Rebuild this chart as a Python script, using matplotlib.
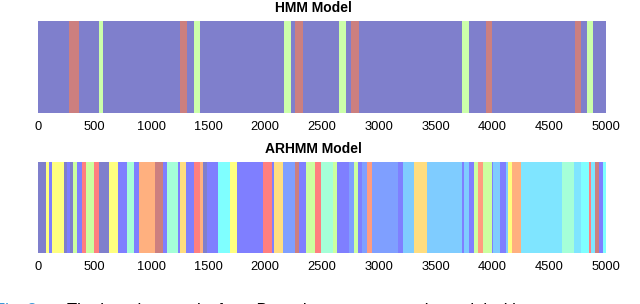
import numpy as np
import matplotlib
matplotlib.use("Agg")
import matplotlib.pyplot as plt

# state sequences as run starts + state id (sequence length 5000)
seq_len = 5000

hmm_starts = [0, 279, 361, 540, 575, 1252, 1317, 1376, 1428, 2167, 2229, 2264,
              2332, 2651, 2713, 2758, 2827, 3731, 3798, 3941, 3994, 4728,
              4781, 4831, 4884]
hmm_states = [0, 2, 0, 1, 0, 2, 0, 1, 0, 1, 0, 2,
              0, 1, 0, 2, 0, 1, 0, 2, 0, 2,
              0, 1, 0]

arhmm_starts = [0, 73, 103, 123, 232, 255, 284, 314, 349, 387, 425, 496, 540,
                630, 710, 783, 848, 895, 1032, 1106, 1135, 1238, 1252, 1305,
                1376, 1428, 1458, 1487, 1584, 1692, 1751, 1986, 2059, 2082,
                2162, 2264, 2302, 2361, 2440, 2493, 2596, 2637, 2743, 2784,
                2822, 2851, 2895, 2945, 3174, 3212, 3314, 3423, 3731, 3751,
                3798, 3839, 3877, 3921, 3994, 4009, 4068, 4120, 4140, 4170,
                4250, 4611, 4714, 4781, 4854, 4866, 4904, 4942, 4977]
arhmm_states = [0, 8, 1, 8, 0, 1, 0, 7, 1, 12, 7, 12, 0,
                8, 1, 6, 1, 10, 13, 1, 6, 1, 9, 1,
                12, 10, 0, 1, 5, 8, 1, 12, 1, 9,
                2, 13, 1, 7, 12, 6, 7, 1, 2, 7,
                1, 2, 11, 2, 1, 3, 9, 3, 1, 3,
                1, 7, 11, 7, 1, 3, 1, 3, 8, 10,
                4, 6, 4, 5, 12, 4, 13, 1, 5]

xticks = list(range(0, 5001, 500))

caption_label = "Fig. 3"
caption_text = "The learning results for a Bayesian nonparametric model with"

# colours (jet at half alpha on white)
hmm_colors = ["#7f7fcc", "#ccffaa", "#cc7f7f"]
arhmm_colors = ["#7f7fcc", "#7f7fff", "#7f9fff", "#7fccff", "#7fe5ff",
                "#7fffff", "#a5ffd8", "#ccff9f", "#ffff7f", "#ffdd7f",
                "#ffb07f", "#ff9c7f", "#ff7f7f", "#cc7f7f"]

plt.rcParams['font.family'] = ['Liberation Sans', 'DejaVu Sans']

fig = plt.figure(figsize=(6.4, 3.04), dpi=100)
ax1 = fig.add_axes([0.0589, 0.627, 0.888, 0.3046])
ax2 = fig.add_axes([0.0589, 0.1668, 0.888, 0.301])


def draw_states(ax, starts, states, palette, title):
    edges = list(starts) + [seq_len]
    widths = np.diff(edges)
    cols = [palette[s] for s in states]
    ax.bar(starts, np.ones(len(starts)), width=widths, align='edge',
           color=cols, linewidth=0, antialiased=False)
    ax.set_xlim(0, seq_len)
    ax.set_ylim(0, 1)
    ax.set_yticks([])
    ax.set_xticks(xticks)
    ax.tick_params(axis='x', length=0, pad=5.5, labelsize=9.3)
    for sp in ax.spines.values():
        sp.set_visible(False)
    ax.set_title(title, fontsize=10, fontweight='bold', x=0.486, pad=6)


draw_states(ax1, hmm_starts, hmm_states, hmm_colors, "HMM Model")
draw_states(ax2, arhmm_starts, arhmm_states, arhmm_colors, "ARHMM Model")

# caption of the source figure, cut off at the bottom edge as in the source
fig.text(-0.008, 0.003, caption_label, color="#3a9ad9", fontsize=12,
         va='top', ha='left')
fig.text(0.104, 0.003, caption_text, color="black", fontsize=12,
         va='top', ha='left')

fig.savefig("out.png", dpi=100)
